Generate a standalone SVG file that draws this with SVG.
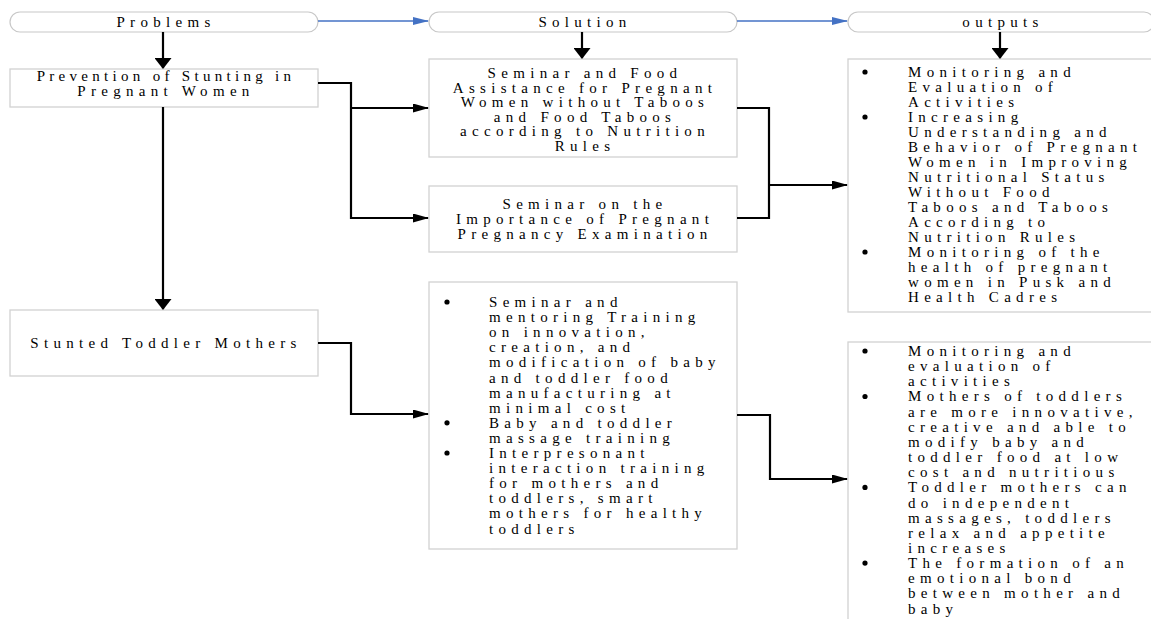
<svg xmlns="http://www.w3.org/2000/svg" width="1151" height="619" viewBox="0 0 1151 619">
<style>
.pill{fill:#fff;stroke:#c8c8c8;stroke-width:1.2}
.box{fill:#fff;stroke:#d2d2d2;stroke-width:1.3}
.t{font-family:"Liberation Serif","Times New Roman",serif;font-size:15px;letter-spacing:5.3px;fill:#000}
.c{text-anchor:middle}
.bk{fill:none;stroke:#000;stroke-width:2.2}
.bl{fill:none;stroke:#4472c4;stroke-width:1.6}
.dot{fill:#000}
</style>
<defs>
<marker id="ah" markerUnits="userSpaceOnUse" viewBox="0 0 16 9" markerWidth="16" markerHeight="9" refX="15" refY="4.5" orient="auto"><path d="M0,0 L16,4.5 L0,9 z" fill="#000"/></marker>
<marker id="av" markerUnits="userSpaceOnUse" viewBox="0 0 11 17" markerWidth="11" markerHeight="17" refX="10" refY="8.5" orient="auto"><path d="M0,0 L11,8.5 L0,17 z" fill="#000"/></marker>
<marker id="ab" markerUnits="userSpaceOnUse" viewBox="0 0 16 8" markerWidth="16" markerHeight="8" refX="15" refY="4" orient="auto"><path d="M0,0 L16,4 L0,8 z" fill="#4472c4"/></marker>
</defs>

<g id="problems">
<rect class="pill" x="10" y="12" width="308" height="20" rx="10"/>
<text class="t c" x="166" y="26.5">Problems</text>
</g>
<g id="solution">
<rect class="pill" x="429" y="12" width="308" height="20" rx="10"/>
<text class="t c" x="585" y="26.5">Solution</text>
</g>
<g id="outputs">
<rect class="pill" x="848" y="12" width="306" height="20" rx="10"/>
<text class="t c" x="1003" y="26.5">outputs</text>
</g>

<g id="prevention">
<rect class="box" x="10" y="69" width="308" height="38"/>
<text class="t c"><tspan x="166" y="81" style="letter-spacing:4.3px">Prevention of Stunting in</tspan><tspan x="166" y="96">Pregnant Women</tspan></text>
</g>
<g id="stunted">
<rect class="box" x="10" y="310" width="308" height="66"/>
<text class="t c" x="166" y="348">Stunted Toddler Mothers</text>
</g>

<g id="sol1">
<rect class="box" x="429" y="59" width="308" height="98"/>
<text class="t c"><tspan x="585" y="78">Seminar and Food</tspan><tspan x="585" y="92.6">Assistance for Pregnant</tspan><tspan x="585" y="107.2">Women without Taboos</tspan><tspan x="585" y="121.8">and Food Taboos</tspan><tspan x="585" y="136.4">according to Nutrition</tspan><tspan x="585" y="151">Rules</tspan></text>
</g>
<g id="sol2">
<rect class="box" x="429" y="186" width="308" height="66"/>
<text class="t c"><tspan x="585" y="208.5">Seminar on the</tspan><tspan x="585" y="223.5">Importance of Pregnant</tspan><tspan x="585" y="238.5">Pregnancy Examination</tspan></text>
</g>
<g id="sol3">
<rect class="box" x="429" y="282" width="308" height="267"/>
<circle class="dot" cx="447" cy="302" r="2.6"/>
<circle class="dot" cx="447" cy="422.8" r="2.6"/>
<circle class="dot" cx="447" cy="453" r="2.6"/>
<text class="t"><tspan x="489" y="307">Seminar and</tspan><tspan x="489" y="322.1">mentoring Training</tspan><tspan x="489" y="337.2">on innovation,</tspan><tspan x="489" y="352.3">creation, and</tspan><tspan x="489" y="367.4">modification of baby</tspan><tspan x="489" y="382.5">and toddler food</tspan><tspan x="489" y="397.6">manufacturing at</tspan><tspan x="489" y="412.7">minimal cost</tspan><tspan x="489" y="427.8">Baby and toddler</tspan><tspan x="489" y="442.9">massage training</tspan><tspan x="489" y="458">Interpresonant</tspan><tspan x="489" y="473.1">interaction training</tspan><tspan x="489" y="488.2">for mothers and</tspan><tspan x="489" y="503.3">toddlers, smart</tspan><tspan x="489" y="518.4">mothers for healthy</tspan><tspan x="489" y="533.5">toddlers</tspan></text>
</g>

<g id="out1">
<rect class="box" x="848" y="59" width="310" height="253"/>
<circle class="dot" cx="865" cy="72" r="2.6"/>
<circle class="dot" cx="865" cy="117" r="2.6"/>
<circle class="dot" cx="865" cy="252" r="2.6"/>
<text class="t"><tspan x="908" y="77">Monitoring and</tspan><tspan x="908" y="92">Evaluation of</tspan><tspan x="908" y="107">Activities</tspan><tspan x="908" y="122">Increasing</tspan><tspan x="908" y="137">Understanding and</tspan><tspan x="908" y="152">Behavior of Pregnant</tspan><tspan x="908" y="167">Women in Improving</tspan><tspan x="908" y="182">Nutritional Status</tspan><tspan x="908" y="197">Without Food</tspan><tspan x="908" y="212">Taboos and Taboos</tspan><tspan x="908" y="227">According to</tspan><tspan x="908" y="242">Nutrition Rules</tspan><tspan x="908" y="257">Monitoring of the</tspan><tspan x="908" y="272">health of pregnant</tspan><tspan x="908" y="287">women in Pusk and</tspan><tspan x="908" y="302">Health Cadres</tspan></text>
</g>
<g id="out2">
<rect class="box" x="848" y="342" width="310" height="300"/>
<circle class="dot" cx="865" cy="351" r="2.6"/>
<circle class="dot" cx="865" cy="396.5" r="2.6"/>
<circle class="dot" cx="865" cy="487.4" r="2.6"/>
<circle class="dot" cx="865" cy="563.1" r="2.6"/>
<text class="t"><tspan x="908" y="356">Monitoring and</tspan><tspan x="908" y="371.15">evaluation of</tspan><tspan x="908" y="386.3">activities</tspan><tspan x="908" y="401.45">Mothers of toddlers</tspan><tspan x="908" y="416.6">are more innovative,</tspan><tspan x="908" y="431.75">creative and able to</tspan><tspan x="908" y="446.9">modify baby and</tspan><tspan x="908" y="462.05">toddler food at low</tspan><tspan x="908" y="477.2">cost and nutritious</tspan><tspan x="908" y="492.35">Toddler mothers can</tspan><tspan x="908" y="507.5">do independent</tspan><tspan x="908" y="522.65">massages, toddlers</tspan><tspan x="908" y="537.8">relax and appetite</tspan><tspan x="908" y="552.95">increases</tspan><tspan x="908" y="568.1">The formation of an</tspan><tspan x="908" y="583.25">emotional bond</tspan><tspan x="908" y="598.4">between mother and</tspan><tspan x="908" y="613.55">baby</tspan></text>
</g>

<g id="connectors">
<path class="bl" d="M318,21 H428" marker-end="url(#ab)"/>
<path class="bl" d="M737,21 H847" marker-end="url(#ab)"/>
<path class="bk" d="M163,32 V68" marker-end="url(#av)"/>
<path class="bk" d="M582,32 V58" marker-end="url(#av)"/>
<path class="bk" d="M1000,32 V58" marker-end="url(#av)"/>
<path class="bk" d="M163,107 V309" marker-end="url(#av)"/>
<path class="bk" d="M318,83 H351 V218 H428" marker-end="url(#ah)"/>
<path class="bk" d="M351,108 H428" marker-end="url(#ah)"/>
<path class="bk" d="M318,343 H351 V414 H428" marker-end="url(#ah)"/>
<path class="bk" d="M737,108 H769 V218 H737"/>
<path class="bk" d="M769,185 H847" marker-end="url(#ah)"/>
<path class="bk" d="M737,415 H770 V479 H847" marker-end="url(#ah)"/>
</g>
</svg>
